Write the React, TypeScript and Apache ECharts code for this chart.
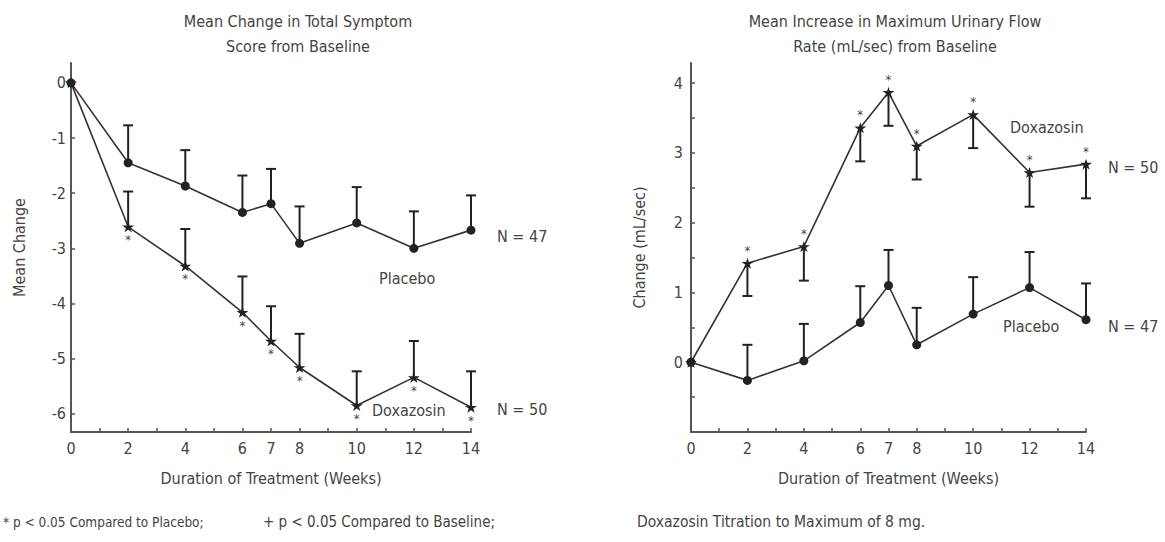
import React, { useEffect, useRef } from "react";
import * as echarts from "echarts";

const weeks = [0, 2, 4, 6, 7, 8, 10, 12, 14];
const weekLabels = [0, 2, 4, 6, 7, 8, 10, 12, 14];

// Mean change in total symptom score
const tssPlacebo = [0, -1.45, -1.87, -2.35, -2.19, -2.91, -2.54, -3.0, -2.67];
const tssPlaceboErr = [null, -0.77, -1.22, -1.68, -1.56, -2.24, -1.89, -2.33, -2.04];
const tssDox = [0, -2.61, -3.32, -4.16, -4.68, -5.16, -5.85, -5.34, -5.88];
const tssDoxErr = [null, -1.97, -2.65, -3.51, -4.05, -4.55, -5.23, -4.68, -5.23];
const tssTicks = [-6, -5, -4, -3, -2, -1, 0];

// Mean increase in maximum urinary flow rate
const flowDox = [0, 1.42, 1.66, 3.36, 3.87, 3.1, 3.55, 2.72, 2.84];
const flowDoxErr = [null, 0.95, 1.17, 2.88, 3.39, 2.62, 3.07, 2.23, 2.35];
const flowPlacebo = [0, -0.26, 0.02, 0.57, 1.1, 0.25, 0.69, 1.07, 0.61];
const flowPlaceboErr = [null, 0.25, 0.55, 1.09, 1.61, 0.78, 1.22, 1.58, 1.13];
const flowTicks = [-0.5, 0, 0.5, 1, 1.5, 2, 2.5, 3, 3.5, 4];
const flowLabels = [0, 1, 2, 3, 4];

const doxSig = [false, true, true, true, true, true, true, true, true];

const FONT = "'Liberation Sans Narrow', 'Arial Narrow', 'DejaVu Sans Condensed', sans-serif";
const TEXT = "#444";
const INK = "#222";
const STAR = "path://M50,0 L61,35 L98,35 L68,57 L79,91 L50,70 L21,91 L32,57 L2,35 L39,35 Z";

function errSeries(vals: number[], errs: (number | null)[], gi: number) {
  const data = weeks
    .map((w, i) => [w, vals[i], errs[i]])
    .filter((d) => d[2] !== null);
  return {
    type: "custom",
    xAxisIndex: gi,
    yAxisIndex: gi,
    data,
    encode: { x: 0, y: [1, 2] },
    z: 1,
    renderItem: (params: any, api: any) => {
      const x = api.value(0);
      const p = api.coord([x, api.value(1)]);
      const q = api.coord([x, api.value(2)]);
      return {
        type: "group",
        children: [
          { type: "line", shape: { x1: p[0], y1: p[1], x2: q[0], y2: q[1] }, style: { stroke: INK, lineWidth: 2 } },
          { type: "line", shape: { x1: q[0] - 5, y1: q[1], x2: q[0] + 5, y2: q[1] }, style: { stroke: INK, lineWidth: 2 } },
        ],
      };
    },
  };
}

function lineSeries(vals: number[], gi: number, symbol: string, size: any, sigPos: string | null) {
  return {
    type: "line",
    xAxisIndex: gi,
    yAxisIndex: gi,
    symbol,
    symbolSize: size,
    z: 3,
    color: INK,
    lineStyle: { color: "#333", width: 1.6 },
    itemStyle: { color: INK },
    label: {
      show: false,
      formatter: "*",
      position: sigPos || "top",
      distance: 1,
      color: TEXT,
      fontSize: 13,
      fontFamily: FONT,
    },
    data: weeks.map((w, i) => ({
      value: [w, vals[i]],
      label: { show: !!sigPos && doxSig[i], color: TEXT },
    })),
  };
}

function xAxisFor(gi: number) {
  return {
    type: "value",
    gridIndex: gi,
    min: 0,
    max: 14,
    interval: 1,
    splitLine: { show: false },
    axisLine: { onZero: false, lineStyle: { color: "#555", width: 2 } },
    axisTick: { inside: true, length: 4, lineStyle: { color: "#555", width: 1.5 } },
    axisLabel: { customValues: weekLabels, color: TEXT, fontSize: 16, fontFamily: FONT, margin: 8 },
    name: "Duration of Treatment (Weeks)",
    nameLocation: "middle",
    nameGap: 38,
    nameTextStyle: { color: TEXT, fontSize: 16, fontFamily: FONT },
  };
}

export default function App() {
  const ref = useRef<HTMLDivElement>(null);
  useEffect(() => {
    if (!ref.current) return;
    const chart = echarts.init(ref.current, null, { renderer: "svg" });
    const txt = (text: string, x: number, y: number, extra: any = {}) => ({
      type: "text",
      x,
      y,
      style: { text, fill: TEXT, fontSize: 16, fontFamily: FONT, verticalAlign: "middle", ...extra },
    });
    chart.setOption({
      animation: false,
      backgroundColor: "#fff",
      title: [
        {
          text: "Mean Change in Total Symptom\nScore from Baseline",
          left: 293,
          top: 4,
          textAlign: "center",
          textStyle: { color: TEXT, fontSize: 16, fontWeight: "normal", fontFamily: FONT, lineHeight: 25 },
        },
        {
          text: "Mean Increase in Maximum Urinary Flow\nRate (mL/sec) from Baseline",
          left: 890,
          top: 4,
          textAlign: "center",
          textStyle: { color: TEXT, fontSize: 16, fontWeight: "normal", fontFamily: FONT, lineHeight: 25 },
        },
      ],
      grid: [
        { left: 71, top: 63, width: 400, height: 369 },
        { left: 691, top: 63, width: 395, height: 369 },
      ],
      xAxis: [xAxisFor(0), xAxisFor(1)],
      yAxis: [
        {
          type: "value",
          gridIndex: 0,
          min: -6.33,
          max: 0.36,
          splitLine: { show: false },
          axisLine: { onZero: false, lineStyle: { color: "#555", width: 2 } },
          axisTick: { show: true, inside: true, length: 4, customValues: tssTicks, lineStyle: { color: "#555", width: 1.5 } },
          axisLabel: { customValues: tssTicks, color: TEXT, fontSize: 16, fontFamily: FONT, margin: 5 },
          name: "Mean Change",
          nameLocation: "middle",
          nameGap: 44,
          nameTextStyle: { color: TEXT, fontSize: 16, fontFamily: FONT },
        },
        {
          type: "value",
          gridIndex: 1,
          min: -1,
          max: 4.29,
          splitLine: { show: false },
          axisLine: { onZero: false, lineStyle: { color: "#555", width: 2 } },
          axisTick: { show: true, inside: true, length: 4, customValues: flowTicks, lineStyle: { color: "#555", width: 1.5 } },
          axisLabel: { customValues: flowLabels, color: TEXT, fontSize: 16, fontFamily: FONT, margin: 8 },
          name: "Change (mL/sec)",
          nameLocation: "middle",
          nameGap: 44,
          nameTextStyle: { color: TEXT, fontSize: 16, fontFamily: FONT },
        },
      ],
      series: [
        errSeries(tssPlacebo, tssPlaceboErr, 0),
        errSeries(tssDox, tssDoxErr, 0),
        lineSeries(tssPlacebo, 0, "circle", 9, null),
        lineSeries(tssDox, 0, STAR, [12, 11], "bottom"),
        errSeries(flowDox, flowDoxErr, 1),
        errSeries(flowPlacebo, flowPlaceboErr, 1),
        lineSeries(flowPlacebo, 1, "circle", 9, null),
        lineSeries(flowDox, 1, STAR, [12, 11], "top"),
      ],
      graphic: [
        txt("N = 47", 497, 236),
        txt("Placebo", 379, 278),
        txt("Doxazosin", 372, 410),
        txt("N = 50", 497, 409),
        txt("Doxazosin", 1010, 127),
        txt("N = 50", 1108, 167),
        txt("Placebo", 1003, 326),
        txt("N = 47", 1108, 326),
        txt("* p < 0.05 Compared to Placebo;", 3, 522, { fontSize: 13.5 }),
        txt("+ p < 0.05 Compared to Baseline;", 263, 522, { fontSize: 15 }),
        txt("Doxazosin Titration to Maximum of 8 mg.", 637, 522, { fontSize: 15.5 }),
      ],
    });
    return () => chart.dispose();
  }, []);
  return <div ref={ref} style={{ position: "absolute", left: 0, top: 0, width: 1165, height: 542 }} />;
}
